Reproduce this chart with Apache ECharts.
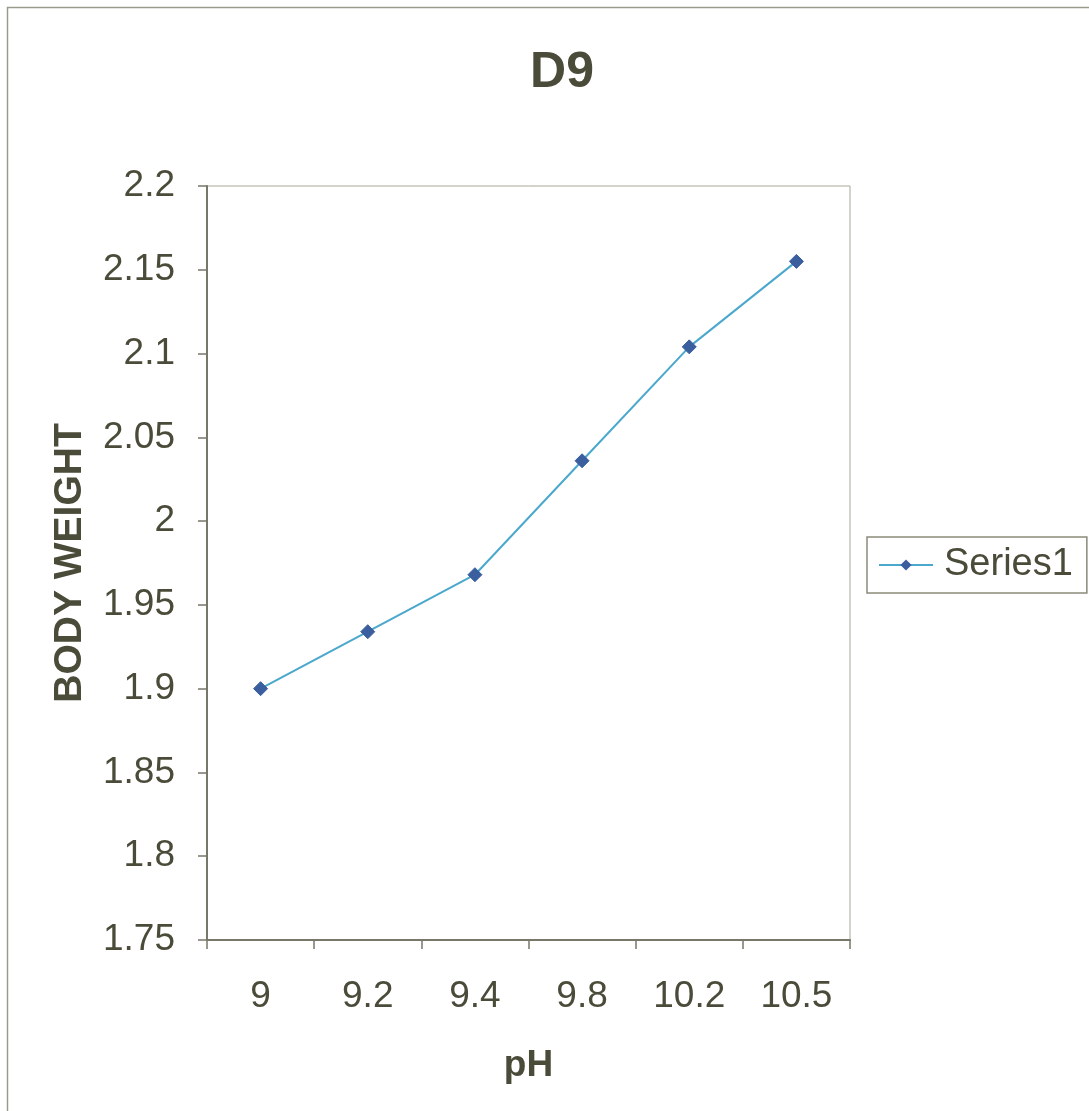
<!DOCTYPE html>
<html>
<head>
<meta charset="utf-8">
<script src="https://cdn.jsdelivr.net/npm/echarts@6/dist/echarts.min.js"></script>
<style>
  html, body { margin: 0; padding: 0; background: #fff; }
  #chart { width: 1089px; height: 1111px; }
</style>
</head>
<body>
<div id="chart"></div>
<script>
// pH values along the x axis
const phLabels = ['9', '9.2', '9.4', '9.8', '10.2', '10.5'];
// body weight
const bodyWeight = [1.90, 1.934, 1.968, 2.036, 2.104, 2.155];

const textColor = '#4b4b3a';
const axisColor = '#77776a';

const chart = echarts.init(document.getElementById('chart'));

chart.setOption({
    backgroundColor: '#ffffff',
    textStyle: { fontFamily: 'Liberation Sans, Arial, sans-serif' },
    graphic: [{
        type: 'rect',
        shape: { x: 7.5, y: 7.5, width: 1100, height: 1120 },
        style: { fill: 'none', stroke: '#9a9a8a', lineWidth: 1.5 },
        silent: true
    }],
    title: {
        text: 'D9',
        left: 557,
        top: 43,
        textAlign: 'center',
        textStyle: { fontSize: 50, fontWeight: 'bold', color: textColor }
    },
    legend: {
        data: ['Series1'],
        left: 867,
        top: 537,
        orient: 'vertical',
        borderColor: '#8a8a7a',
        borderWidth: 1.5,
        padding: [9, 14, 9, 11],
        itemWidth: 54,
        itemHeight: 14,
        itemGap: 10,
        textStyle: { fontSize: 38, color: textColor, padding: [0, 0, 0, 6] }
    },
    grid: {
        left: 207,
        top: 186,
        right: 239,
        bottom: 171,
        show: true,
        borderColor: '#a8a898',
        borderWidth: 1
    },
    xAxis: {
        type: 'category',
        data: phLabels,
        boundaryGap: true,
        name: 'pH',
        nameLocation: 'middle',
        nameGap: 107,
        nameTextStyle: { fontSize: 37, fontWeight: 'bold', color: textColor },
        axisLine: { lineStyle: { color: axisColor, width: 2 } },
        axisTick: { show: true, alignWithLabel: false, length: 9, lineStyle: { color: axisColor, width: 1.5 } },
        axisLabel: { fontSize: 37, color: textColor, margin: 38 },
        splitLine: { show: false }
    },
    yAxis: {
        type: 'value',
        min: 1.75,
        max: 2.2,
        interval: 0.05,
        name: 'BODY WEIGHT',
        nameLocation: 'middle',
        nameGap: 117,
        nameTextStyle: { fontSize: 39, fontWeight: 'bold', color: textColor },
        axisLine: { show: true, lineStyle: { color: axisColor, width: 2 } },
        axisTick: { show: true, length: 9, lineStyle: { color: axisColor, width: 1.5 } },
        axisLabel: {
            fontSize: 37,
            color: textColor,
            margin: 32,
            formatter: v => String(parseFloat(v.toFixed(2)))
        },
        splitLine: { show: false }
    },
    series: [{
        name: 'Series1',
        type: 'line',
        data: bodyWeight,
        symbol: 'diamond',
        symbolSize: 14,
        lineStyle: { color: '#4aa8cc', width: 2 },
        itemStyle: { color: '#3a5e9e', borderColor: '#3a5e9e' },
        animation: false
    }]
});
</script>
</body>
</html>
